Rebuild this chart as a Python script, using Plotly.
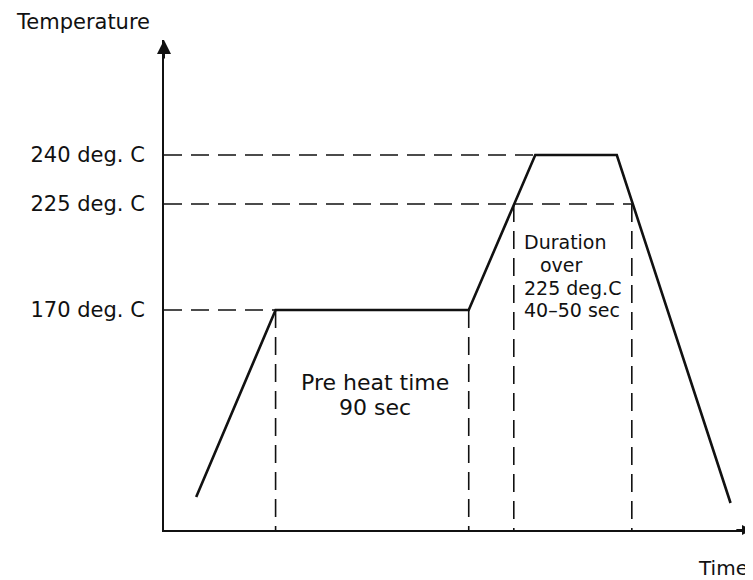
import plotly.graph_objects as go

# ---- data (schematic reflow profile) ----
# time in schematic seconds (preheat span = 90 s), level in schematic units above the time axis
profile_time = [15, 52, 142, 173, 211, 264]
profile_level = [33, 220, 220, 375, 375, 27]

temp_labels = ["170 deg. C", "225 deg. C", "240 deg. C"]
temp_levels = [220, 326, 375]

preheat_start, preheat_end = 52, 142
over225_start, over225_end = 163, 218
peak_start = 173

x_max, y_max = 274, 490

INK = "#111111"
FONT = "DejaVu Sans"

fig = go.Figure()

dash = "18px,9px"
# horizontal reference lines
h_lines = [
    (0, peak_start, temp_levels[2]),
    (0, over225_end, temp_levels[1]),
    (0, preheat_start, temp_levels[0]),
]
for x0, x1, y in h_lines:
    fig.add_trace(go.Scatter(x=[x0, x1], y=[y, y], mode="lines",
                             line=dict(color=INK, width=1.6, dash=dash),
                             hoverinfo="skip", showlegend=False))
# vertical reference lines
v_lines = [
    (preheat_start, temp_levels[0]),
    (preheat_end, temp_levels[0]),
    (over225_start, temp_levels[1]),
    (over225_end, temp_levels[1]),
]
for x, y in v_lines:
    fig.add_trace(go.Scatter(x=[x, x], y=[y, 0], mode="lines",
                             line=dict(color=INK, width=1.6, dash=dash),
                             hoverinfo="skip", showlegend=False))

# profile
fig.add_trace(go.Scatter(x=profile_time, y=profile_level, mode="lines",
                         line=dict(color=INK, width=2.6),
                         hoverinfo="skip", showlegend=False))

annotations = []
# axis arrowheads
annotations.append(dict(x=0, y=y_max, ax=0, ay=y_max - 20, xref="x", yref="y",
                        axref="x", ayref="y", text="", showarrow=True,
                        arrowhead=2, arrowsize=1.4, arrowwidth=2, arrowcolor=INK))
annotations.append(dict(x=x_max, y=0, ax=x_max - 8, ay=0, xref="x", yref="y",
                        axref="x", ayref="y", text="", showarrow=True,
                        arrowhead=2, arrowsize=1.0, arrowwidth=2, arrowcolor=INK))

# texts
def txt(s, x, y, size=20, xanchor="center", ref="data"):
    xr, yr = ("x", "y") if ref == "data" else ("paper", "paper")
    annotations.append(dict(text=s, x=x, y=y, xref=xr, yref=yr,
                            xanchor=xanchor, yanchor="middle", showarrow=False,
                            font=dict(family=FONT, size=size, color=INK)))

txt("Pre heat time", 98.4, 148, size=22)
txt("90 sec", 98.4, 123, size=22)
txt("Duration", 167, 288, size=19, xanchor="left")
txt("over", 185, 265, size=19)
txt("225 deg.C", 167, 242, size=19, xanchor="left")
txt("40\u201350 sec", 167, 220, size=19, xanchor="left")

# axis titles, placed relative to the plot area
txt("Temperature", -0.1378, 1.0367, size=21, ref="paper")
txt("Time", 0.9507, -0.0776, size=20, ref="paper")

# the page body adds an 8px margin, so the figure is 8px smaller than the window
W, H = 745, 572

fig.update_layout(
    width=W, height=H,
    margin=dict(l=156, r=1, t=32, b=50),
    paper_bgcolor="white", plot_bgcolor="white",
    annotations=annotations,
    xaxis=dict(range=[0, x_max], showgrid=False, zeroline=False,
               showline=True, linewidth=2, linecolor=INK,
               showticklabels=False, ticks=""),
    yaxis=dict(range=[0, y_max], showgrid=False, zeroline=False,
               showline=True, linewidth=2, linecolor=INK,
               tickvals=temp_levels, ticktext=temp_labels, ticks="",
               tickfont=dict(family=FONT, size=21, color=INK),
               ticklabelstandoff=13),
)

fig.write_html("out.html")
